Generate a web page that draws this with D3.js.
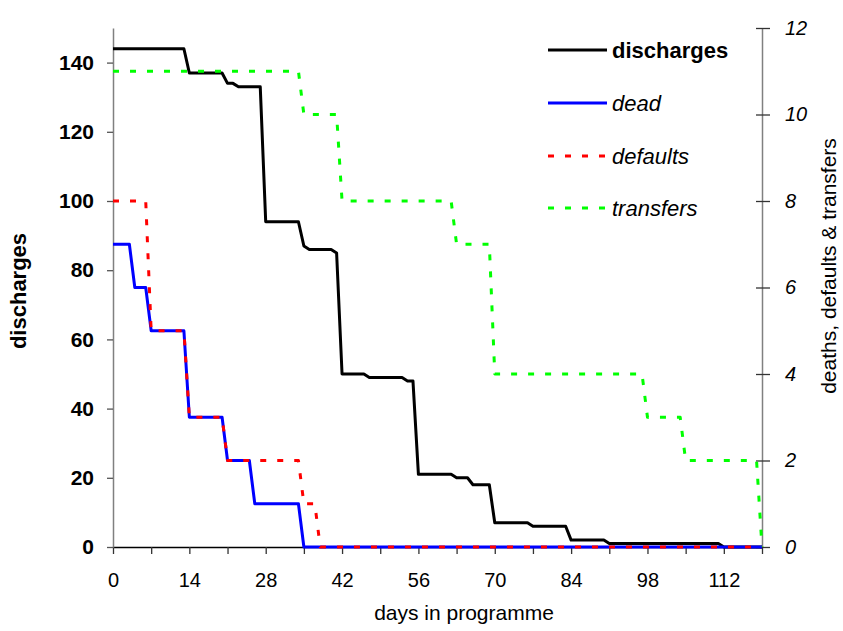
<!DOCTYPE html>
<html>
<head>
<meta charset="utf-8">
<script src="https://cdn.jsdelivr.net/npm/d3@7"></script>
<style>
  html, body { margin: 0; padding: 0; background: #fff; }
  svg { display: block; font-family: Arial, "Liberation Sans", sans-serif; }
</style>
</head>
<body>
<svg id="chart" width="843" height="631"></svg>
<script>
// ---- data ----
const dischargeDays = [0,13,14,20,21,22,23,27,28,34,35,36,40,41,42,46,47,53,54,55,56,62,63,65,66,69,70,76,77,83,84,90,91,111,112,119];
const discharges    = [144,144,137,137,134,134,133,133,94,94,87,86,86,85,50,50,49,49,48,48,21,21,20,20,18,18,7,7,6,6,2,2,1,1,0,0];

const deadDays = [0,3,4,6,7,13,14,20,21,25,26,34,35,119];
const dead     = [7,7,6,6,5,5,3,3,2,2,1,1,0,0];

const defaultDays = [0,6,7,13,14,20,21,34,35,37,38,119];
const defaults    = [8,8,5,5,3,3,2,2,1,1,0,0];

const transferDays = [0,34,35,41,42,62,63,69,70,97,98,104,105,118,119];
const transfers    = [11,11,10,10,8,8,7,7,4,4,3,3,2,2,0];

const xTicks = [0,7,14,21,28,35,42,49,56,63,70,77,84,91,98,105,112,119];
const leftTicks = [0,20,40,60,80,100,120,140];
const rightTicks = [0,2,4,6,8,10,12];

const legendNames = ["discharges","dead","defaults","transfers"];
const xTitle = "days in programme";
const leftTitle = "discharges";
const rightTitle = "deaths, defaults & transfers";

// ---- scales ----
const svg = d3.select("#chart");
const x = d3.scaleLinear().domain([0,119]).range([113,762]);
const yL = d3.scaleLinear().domain([0,150]).range([547,28]);
const yR = d3.scaleLinear().domain([0,12]).range([547,28]);

// ---- axes ----
const gx = svg.append("g").attr("transform","translate(0,547)")
  .call(d3.axisBottom(x).tickValues(xTicks).tickSize(7).tickSizeOuter(0).tickPadding(19)
        .tickFormat(d => d % 14 === 0 ? d : ""));
gx.select(".domain").attr("stroke","#000").attr("stroke-width",1.5);
gx.selectAll(".tick line").attr("stroke","#333").attr("stroke-width",1.3);
gx.selectAll("text").attr("font-size",20).attr("fill","#000");

const gl = svg.append("g").attr("transform","translate(113,0)")
  .call(d3.axisLeft(yL).tickValues(leftTicks).tickSize(6).tickSizeOuter(0).tickPadding(13));
gl.select(".domain").attr("stroke","#808080").attr("stroke-width",1.5);
gl.selectAll(".tick line").attr("stroke","#555").attr("stroke-width",1.3);
gl.selectAll("text").attr("font-size",21).attr("font-weight","bold").attr("fill","#000");

const gr = svg.append("g").attr("transform","translate(762,0)")
  .call(d3.axisRight(yR).tickValues(rightTicks).tickSize(8).tickSizeOuter(0).tickPadding(15));
gr.select(".domain").attr("stroke","#808080").attr("stroke-width",1.5);
gr.selectAll(".tick line").attr("x1",-6).attr("stroke","#333").attr("stroke-width",1.3);
gr.selectAll("text").attr("font-size",20).attr("font-style","italic").attr("fill","#000");

// ---- lines ----
function draw(days, vals, yScale, color, dash) {
  const pts = days.map((d,i) => [d, vals[i]]);
  const line = d3.line().x(p => x(p[0])).y(p => yScale(p[1]));
  svg.append("path").datum(pts)
    .attr("d", line).attr("fill","none").attr("stroke",color)
    .attr("stroke-width",3).attr("stroke-linejoin","round")
    .attr("stroke-dasharray", dash || null);
}
draw(dischargeDays, discharges, yL, "#000000");
draw(deadDays, dead, yR, "#0000FF");
draw(defaultDays, defaults, yR, "#FF0000", "6,11");
draw(transferDays, transfers, yR, "#00FF00", "6,11");

// ---- legend ----
const legendColors = ["#000000","#0000FF","#FF0000","#00FF00"];
const legendDash = [null,null,"6,11","6,11"];
const legendY = [50,103,156,208];
legendNames.forEach((n,i) => {
  svg.append("line").attr("x1",548).attr("x2",607).attr("y1",legendY[i]).attr("y2",legendY[i])
    .attr("stroke",legendColors[i]).attr("stroke-width",3)
    .attr("stroke-dasharray",legendDash[i]);
  svg.append("text").attr("x",612).attr("y",legendY[i]+8)
    .attr("font-size",22)
    .attr("font-weight", i===0 ? "bold" : "normal")
    .attr("font-style", i===0 ? "normal" : "italic")
    .text(n);
});

// ---- titles ----
svg.append("text").attr("x",464).attr("y",620).attr("text-anchor","middle")
  .attr("font-size",21).text(xTitle);
svg.append("text").attr("transform","translate(26,291) rotate(-90)")
  .attr("text-anchor","middle").attr("font-size",22).attr("font-weight","bold").text(leftTitle);
svg.append("text").attr("transform","translate(836,266) rotate(-90)")
  .attr("text-anchor","middle").attr("font-size",21).text(rightTitle);
</script>
</body>
</html>
